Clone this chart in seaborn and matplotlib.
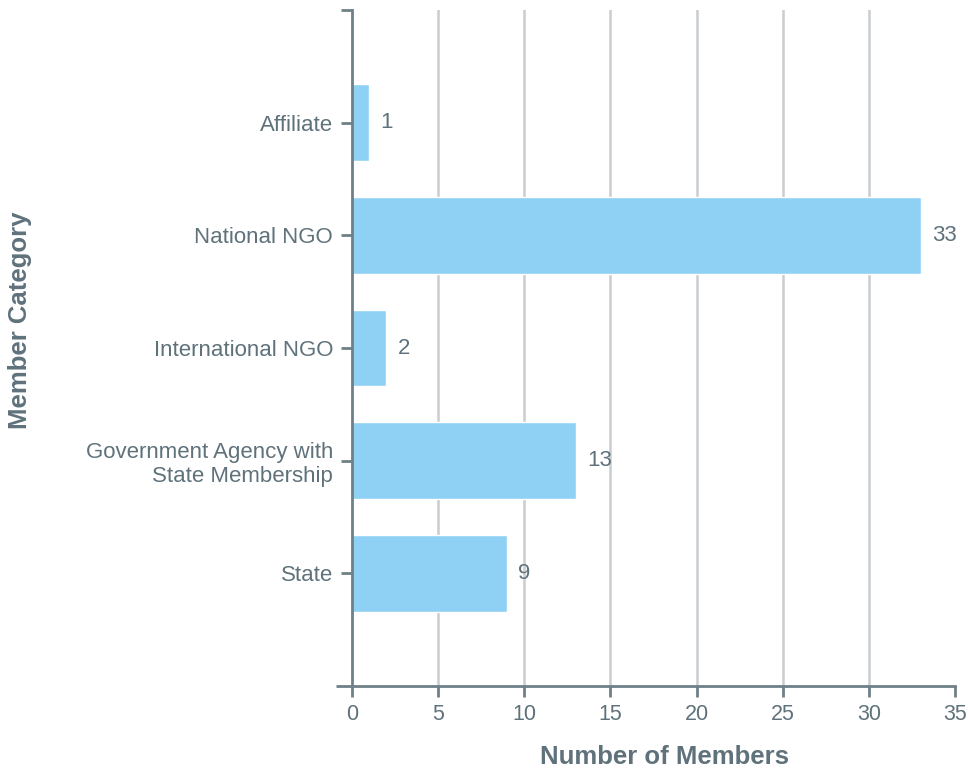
import matplotlib
matplotlib.use("Agg")
import matplotlib.pyplot as plt
import seaborn as sns
import pandas as pd

categories = ["Affiliate", "National NGO", "International NGO",
              "Government Agency with\nState Membership", "State"]
members = [1, 33, 2, 13, 9]
x_ticks = [0, 5, 10, 15, 20, 25, 30, 35]

sns.set_theme(style="white")
plt.rcParams['font.family'] = ['Liberation Sans', 'DejaVu Sans']

TXT = '#5f727b'
AX = '#6e8088'
BAR = '#8ed1f4'
GRID = '#c8cdd0'

df = pd.DataFrame({"category": categories, "members": members})

fig = plt.figure(figsize=(9.68, 7.69), dpi=100)
ax = fig.add_axes([352/968, 1-686/769, 603/968, 676/769])

sns.barplot(data=df, y="category", x="members", color=BAR, saturation=1,
            width=0.68, ax=ax, orient="h")

ax.set_xlim(0, 35)
ax.set_ylim(5, -1)
ax.set_xticks(x_ticks)
ax.set_xticklabels([str(t) for t in x_ticks])

ax.grid(axis='x', color=GRID, linewidth=1.8)
ax.set_axisbelow(True)
gl = ax.get_xgridlines()
gl[0].set_visible(False)
gl[-1].set_visible(False)

for s in ['top', 'right']:
    ax.spines[s].set_visible(False)
for s in ['left', 'bottom']:
    ax.spines[s].set_color(AX)
    ax.spines[s].set_linewidth(2)

# extend bottom spine slightly left of the y axis
ax.plot([-16/603, 0], [0, 0], transform=ax.transAxes, color=AX, lw=2,
        clip_on=False, solid_capstyle='butt')

ax.tick_params(axis='x', colors=AX, length=8, width=2, labelsize=15.5,
               labelcolor=TXT, pad=5, bottom=True)
ax.tick_params(axis='y', colors=AX, length=8, width=2, labelsize=16,
               labelcolor=TXT, pad=5.5, left=True)
ax.set_yticks([-1], minor=True)
ax.tick_params(axis='y', which='minor', colors=AX, length=8, width=2, left=True)
for lbl in ax.get_yticklabels():
    lbl.set_linespacing(1.15)

for i, v in enumerate(members):
    ax.annotate(str(v), xy=(v, i), xytext=(8, 0), textcoords='offset points',
                va='center', ha='left', fontsize=16, color=TXT)

ax.set_xlabel("Number of Members", fontsize=18.5, fontweight='bold', color=TXT)
ax.set_ylabel("Member Category", fontsize=18.5, fontweight='bold', color=TXT)
ax.xaxis.set_label_coords(0.518, -0.087)
ax.yaxis.set_label_coords(-0.531, 0.541)

fig.savefig("out.png", dpi=100)
